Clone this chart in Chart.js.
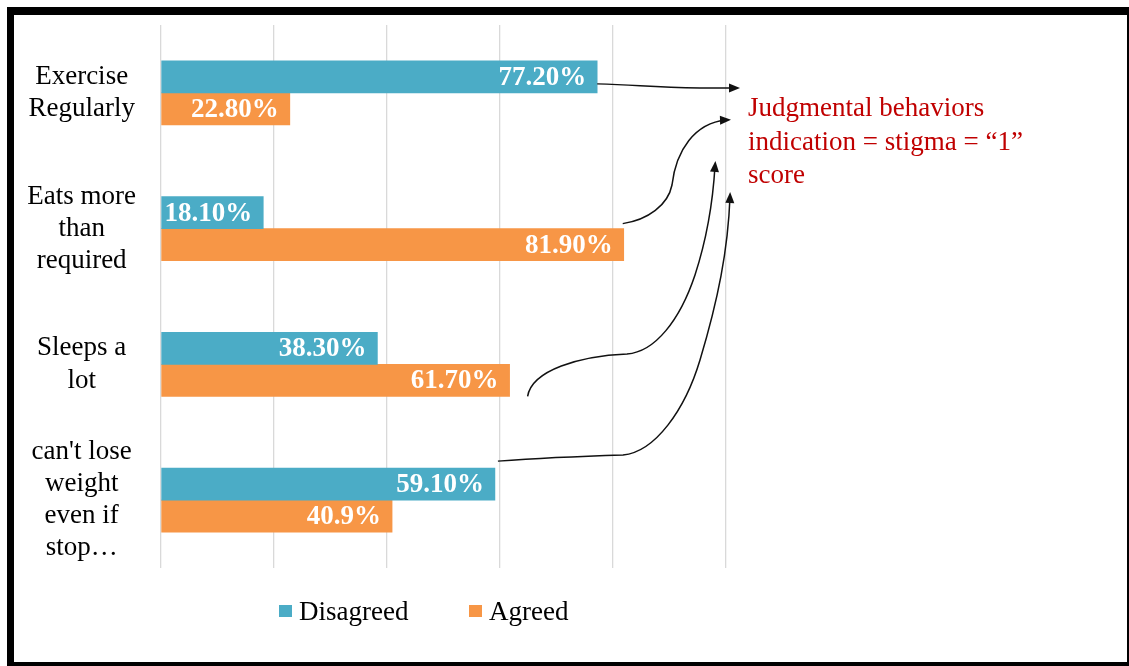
<!DOCTYPE html>
<html>
<head>
<meta charset="utf-8">
<script src="https://cdn.jsdelivr.net/npm/chart.js@4/dist/chart.umd.min.js"></script>
<style>
  html, body { margin: 0; padding: 0; background: #fff; }
  #wrap { width: 1129px; height: 666px; }
</style>
</head>
<body>
<div id="wrap"><canvas id="c" width="1129" height="666"></canvas></div>
<script>
// ---- data ----
const categories = [
  ["Exercise", "Regularly"],
  ["Eats more", "than", "required"],
  ["Sleeps a", "lot"],
  ["can't lose", "weight", "even if", "stop\u2026"]
];
const seriesNames = ["Disagreed", "Agreed"];
const disagreedValues = [77.2, 18.1, 38.3, 59.1];
const agreedValues = [22.8, 81.9, 61.7, 40.9];
const disagreedLabels = ["77.20%", "18.10%", "38.30%", "59.10%"];
const agreedLabels = ["22.80%", "81.90%", "61.70%", "40.9%"];
const xTicks = [0, 20, 40, 60, 80, 100];
const annotationLines = ["Judgmental behaviors", "indication = stigma = \u201c1\u201d", "score"];

const colors = ["#4BACC6", "#F79646"];
const valueLabels = [disagreedLabels, agreedLabels];
const SERIF = "'Liberation Serif', 'Times New Roman', serif";

const framePlugin = {
  id: 'frame',
  beforeDraw(chart) {
    const ctx = chart.ctx;
    ctx.save();
    ctx.fillStyle = '#fff';
    ctx.fillRect(0, 0, chart.width, chart.height);
    ctx.restore();
  },
  afterDraw(chart) {
    const ctx = chart.ctx;
    ctx.save();
    // black frame
    ctx.fillStyle = '#000';
    ctx.fillRect(7, 7, 1122, 8);
    ctx.fillRect(7, 7, 7, 659);
    ctx.fillRect(1127, 7, 2, 659);
    ctx.fillRect(7, 662, 1122, 4);

    // value labels inside bars
    ctx.font = "bold 27px " + SERIF;
    ctx.fillStyle = '#fff';
    ctx.textAlign = 'right';
    ctx.textBaseline = 'middle';
    chart.data.datasets.forEach((ds, di) => {
      const meta = chart.getDatasetMeta(di);
      meta.data.forEach((bar, i) => {
        ctx.fillText(valueLabels[di][i], bar.x - 11, bar.y + 1);
      });
    });

    // legend
    ctx.font = "27px " + SERIF;
    ctx.textAlign = 'left';
    ctx.textBaseline = 'alphabetic';
    const legendX = [279, 469];
    seriesNames.forEach((name, i) => {
      ctx.fillStyle = colors[i];
      ctx.fillRect(legendX[i], 605, 13, 12);
      ctx.fillStyle = '#000';
      ctx.fillText(name, legendX[i] + 20, 620);
    });

    // annotation text
    ctx.fillStyle = '#C00000';
    annotationLines.forEach((t, i) => ctx.fillText(t, 748, 116 + i * 33.5));

    // arrows
    const d0 = chart.getDatasetMeta(0).data;
    const d1 = chart.getDatasetMeta(1).data;
    ctx.strokeStyle = '#111';
    ctx.fillStyle = '#111';
    ctx.lineWidth = 1.5;
    function arrow(sx, sy, segs, headFrom) {
      ctx.beginPath();
      ctx.moveTo(sx, sy);
      segs.forEach(s => {
        if (s.length === 2) ctx.lineTo(s[0], s[1]);
        else ctx.bezierCurveTo(s[0], s[1], s[2], s[3], s[4], s[5]);
      });
      ctx.stroke();
      const last = segs[segs.length - 1];
      const tx = last[last.length - 2], ty = last[last.length - 1];
      const ang = Math.atan2(ty - headFrom[1], tx - headFrom[0]);
      const L = 11, W = 4.5;
      const hx = tx + Math.cos(ang) * 5, hy = ty + Math.sin(ang) * 5;
      ctx.beginPath();
      ctx.moveTo(hx, hy);
      ctx.lineTo(hx - L * Math.cos(ang) + W * Math.sin(ang), hy - L * Math.sin(ang) - W * Math.cos(ang));
      ctx.lineTo(hx - L * Math.cos(ang) - W * Math.sin(ang), hy - L * Math.sin(ang) + W * Math.cos(ang));
      ctx.closePath();
      ctx.fill();
    }
    // from Exercise (disagreed)
    arrow(d0[0].x, d0[0].y + 7, [[640, 85, 650, 87.5, 700, 88], [735, 88]], [700, 88]);
    // from Eats more (agreed)
    arrow(d1[1].x - 1, d1[1].y - 21, [[648, 220, 668, 205, 672, 185], [676, 150, 695, 123, 726, 120]], [695, 121]);
    // from Sleeps a lot (agreed)
    arrow(d1[2].x + 18, d1[2].y + 16, [[532, 370, 580, 356, 627, 354], [655, 352, 680, 320, 695, 275], [708, 235, 713, 200, 715, 166]], [713, 190]);
    // from can't lose weight (disagreed)
    arrow(d0[3].x + 3, d0[3].y - 23, [[540, 458, 590, 456, 623, 455], [655, 452, 685, 410, 700, 360], [718, 300, 728, 250, 730, 197]], [729, 230]);
    ctx.restore();
  }
};

new Chart(document.getElementById('c'), {
  type: 'bar',
  data: {
    labels: categories,
    datasets: [
      { label: seriesNames[0], data: disagreedValues, backgroundColor: colors[0], barThickness: 32 },
      { label: seriesNames[1], data: agreedValues, backgroundColor: colors[1], barThickness: 32 }
    ]
  },
  options: {
    indexAxis: 'y',
    responsive: false,
    animation: false,
    layout: { padding: { left: 0, right: 403, top: 25, bottom: 98 } },
    plugins: { legend: { display: false }, tooltip: { enabled: false } },
    scales: {
      x: {
        min: 0, max: 100,
        afterBuildTicks(scale) { scale.ticks = xTicks.map(v => ({ value: v })); },
        afterFit(scale) { scale.height = 0; scale.paddingLeft = 0; scale.paddingRight = 0; },
        ticks: { display: false },
        grid: { color: '#d9d9d9', lineWidth: 1.3, drawTicks: false },
        border: { display: false }
      },
      y: {
        afterFit(scale) { scale.width = 161; scale.paddingTop = 0; scale.paddingBottom = 0; },
        ticks: {
          crossAlign: 'center',
          padding: 25,
          color: '#000',
          font: { family: SERIF, size: 27, lineHeight: 1.19 }
        },
        grid: { display: false, drawTicks: false },
        border: { display: false }
      }
    }
  },
  plugins: [framePlugin]
});
</script>
</body>
</html>
